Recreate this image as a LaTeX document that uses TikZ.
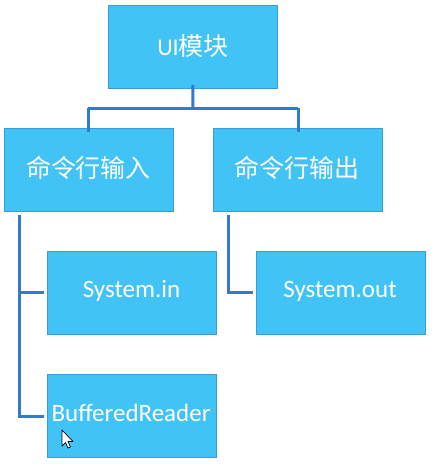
\documentclass[tikz,border=0pt]{standalone}
\usepackage{fontspec}
\setmainfont{Carlito}
\newfontfamily\cjk{Noto Sans CJK SC}
\definecolor{boxfill}{HTML}{41C3F6}
\definecolor{boxline}{HTML}{3A9CDE}
\definecolor{conn}{HTML}{2F7BD0}
\begin{document}
\begin{tikzpicture}[x=1pt,y=-1pt,
  box/.style={draw=boxline,line width=0.8pt,fill=boxfill,minimum width=169pt,minimum height=83pt,inner sep=0pt,text=white,anchor=north west},
  cjktext/.style={font=\cjk\fontsize{25}{29}\selectfont},
  lattext/.style={font=\fontsize{25}{30}\selectfont},
  wire/.style={draw=conn,line width=3pt}]
\useasboundingbox (0,0) rectangle (441,474);
\node[box,cjktext] (ui) at (108,5) {};
\node[cjktext,text=white] (uit) at (193,46) {{\fontsize{24}{28}\selectfont\rmfamily UI}模块};
\node[box,cjktext] (cin) at (4,128) {};
\node[cjktext,text=white] (cint) at (88.5,168) {命令行输入};
\node[box,cjktext] (cout) at (213,128) {};
\node[cjktext,text=white] (coutt) at (297,168) {命令行输出};
\node[box] (sin) at (47,251) {};
\node[lattext,text=white] (sint) at (131.5,291) {System.in};
\node[box] (sout) at (256,251) {};
\node[lattext,text=white] (soutt) at (340,291) {System.out};
\node[box] (br) at (47,374) {};
\node[lattext,text=white] (brt) at (131,413) {BufferedReader};
% connectors
\coordinate (j1) at (193,108);
\coordinate (ja) at (88,108);
\coordinate (jb) at (298,108);
\draw[wire] ([yshift=4pt]ui.south) -- (j1);
\draw[wire] (ja) -- (jb);
\draw[wire] (ja) -- ([yshift=-4pt]cin.north -| ja);
\draw[wire] (jb) -- ([yshift=-4pt]cout.north -| jb);
\coordinate (la) at (19,215);
\coordinate (lb) at (19,292);
\coordinate (lc) at (19,416);
\draw[wire] (la) -- (lc) -- ([xshift=-3pt]br.west |- lc);
\draw[wire] (lb) -- ([xshift=-3pt]sin.west |- lb);
\coordinate (ra) at (228,215);
\draw[wire] (ra) -- (228,292) -- ([xshift=-3pt]sout.west |- 0,292);
% cursor
\filldraw[fill=white,draw=black!80!blue,line width=0.7pt,line join=round]
  (62,430) -- (62,446) -- (65.5,442.5) -- (68,448) -- (70.5,447) -- (68,441.5) -- (73,441.5) -- cycle;
\end{tikzpicture}
\end{document}
